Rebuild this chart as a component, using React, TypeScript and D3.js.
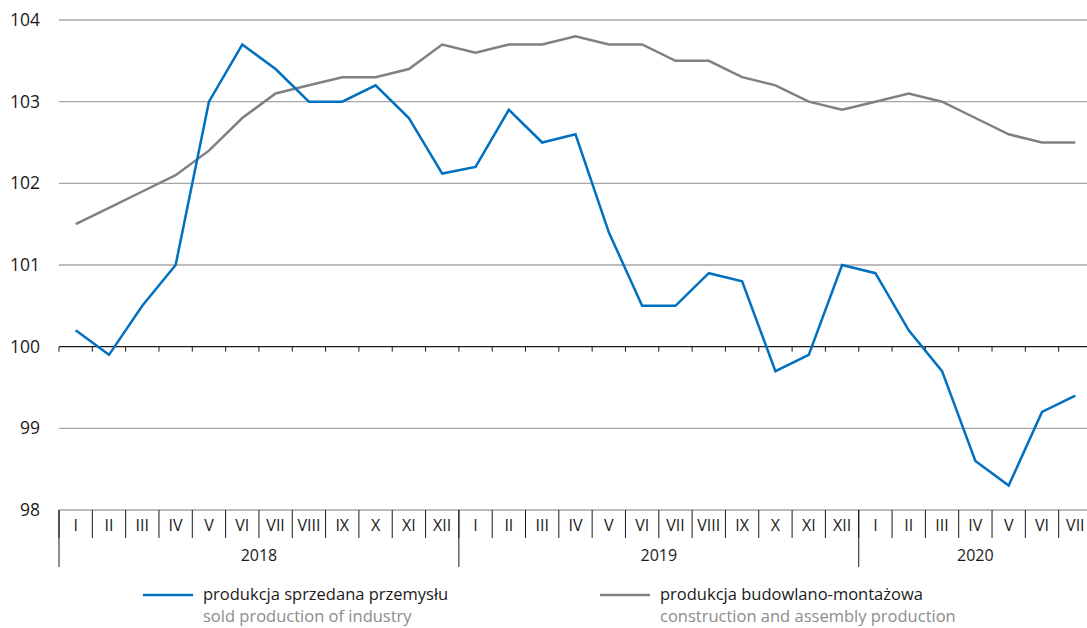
import React from 'react';
import * as d3 from 'd3';

const months = ['I', 'II', 'III', 'IV', 'V', 'VI', 'VII', 'VIII', 'IX', 'X', 'XI', 'XII'];
const years = ['2018', '2019', '2020'];
const monthsInYear = [12, 12, 7];

const industry = [
  100.2, 99.9, 100.5, 101.0, 103.0, 103.7, 103.4, 103.0, 103.0, 103.2, 102.8, 102.12,
  102.2, 102.9, 102.5, 102.6, 101.4, 100.5, 100.5, 100.9, 100.8, 99.7, 99.9, 101.0,
  100.9, 100.2, 99.7, 98.6, 98.3, 99.2, 99.4,
];
const construction = [
  101.5, 101.7, 101.9, 102.1, 102.4, 102.8, 103.1, 103.2, 103.3, 103.3, 103.4, 103.7,
  103.6, 103.7, 103.7, 103.8, 103.7, 103.7, 103.5, 103.5, 103.3, 103.2, 103.0, 102.9,
  103.0, 103.1, 103.0, 102.8, 102.6, 102.5, 102.5,
];
const yTicks = [98, 99, 100, 101, 102, 103, 104];

const legendItems = [
  { pl: 'produkcja sprzedana przemysłu', en: 'sold production of industry', color: '#0070c0' },
  { pl: 'produkcja budowlano-montażowa', en: 'construction and assembly production', color: '#808080' },
];

const width = 1087;
const height = 628;
const font = "'Open Sans', sans-serif";

export default function App() {
  // one key per month across all years
  const keys: string[] = [];
  const labels: string[] = [];
  years.forEach((yr, yi) => {
    for (let m = 0; m < monthsInYear[yi]; m++) {
      keys.push(`${yr}-${m}`);
      labels.push(months[m]);
    }
  });

  const x = d3.scaleBand().domain(keys).range([59, 1092]);
  const y = d3.scaleLinear().domain([98, 104]).range([510, 20]);
  const cx = (i: number) => (x(keys[i]) as number) + x.bandwidth() / 2;

  const line = d3
    .line<number>()
    .x((_, i) => cx(i))
    .y((d) => y(d));

  const axisY = y(100);
  const boxTop = y(98);

  // year boundaries
  let acc = 0;
  const yearSpans = years.map((yr, yi) => {
    const start = acc;
    acc += monthsInYear[yi];
    return { yr, start, end: acc };
  });

  const txt = { fontFamily: font };

  return (
    <svg
      width={width}
      height={height}
      style={{ position: 'absolute', left: 0, top: 0, display: 'block' }}
    >
      {/* grid */}
      {yTicks.map((t) => (
        <g key={t}>
          {t !== 100 && (
            <line x1={59} x2={width} y1={y(t)} y2={y(t)} stroke="#a6a6a6" strokeWidth={1.3} />
          )}
          <text x={40} y={y(t)} dy="0.35em" textAnchor="end" fontSize={17.5} fill="#1a1a1a" style={txt}>
            {t}
          </text>
        </g>
      ))}

      {/* axis at 100 with ticks */}
      <line x1={59} x2={width} y1={axisY} y2={axisY} stroke="#1a1a1a" strokeWidth={1.2} />
      {keys.map((k) => (
        <line
          key={`t-${k}`}
          x1={x(k) as number}
          x2={x(k) as number}
          y1={axisY}
          y2={axisY + 5}
          stroke="#1a1a1a"
          strokeWidth={1}
        />
      ))}

      {/* category box */}
      {keys.map((k, i) => (
        <g key={`c-${k}`}>
          <line
            x1={x(k) as number}
            x2={x(k) as number}
            y1={boxTop}
            y2={boxTop + 28}
            stroke="#1a1a1a"
            strokeWidth={1}
          />
          <text x={cx(i)} y={boxTop + 15} dy="0.35em" textAnchor="middle" fontSize={16} fill="#1a1a1a" style={txt}>
            {labels[i]}
          </text>
        </g>
      ))}
      {yearSpans.map((s) => {
        const x0 = x(keys[s.start]) as number;
        const x1 = s.end < keys.length ? (x(keys[s.end]) as number) : 1092;
        return (
          <g key={s.yr}>
            <line x1={x0} x2={x0} y1={boxTop} y2={boxTop + 57} stroke="#1a1a1a" strokeWidth={1} />
            <text x={(x0 + x1) / 2} y={boxTop + 45} dy="0.35em" textAnchor="middle" fontSize={16} fill="#1a1a1a" style={txt}>
              {s.yr}
            </text>
          </g>
        );
      })}

      {/* series */}
      <path d={line(construction) || ''} fill="none" stroke="#808080" strokeWidth={2.5} />
      <path d={line(industry) || ''} fill="none" stroke="#0070c0" strokeWidth={2.5} />

      {/* legend */}
      {legendItems.map((it, i) => {
        const lx = i === 0 ? 143 : 600;
        return (
          <g key={it.pl}>
            <line x1={lx} x2={lx + 50} y1={595} y2={595} stroke={it.color} strokeWidth={2.5} />
            <text x={lx + 60} y={594} dy="0.35em" fontSize={16.5} fill="#1a1a1a" style={txt}>
              {it.pl}
            </text>
            <text x={lx + 60} y={616} dy="0.35em" fontSize={16.5} fill="#8c8c8c" style={txt}>
              {it.en}
            </text>
          </g>
        );
      })}
    </svg>
  );
}
